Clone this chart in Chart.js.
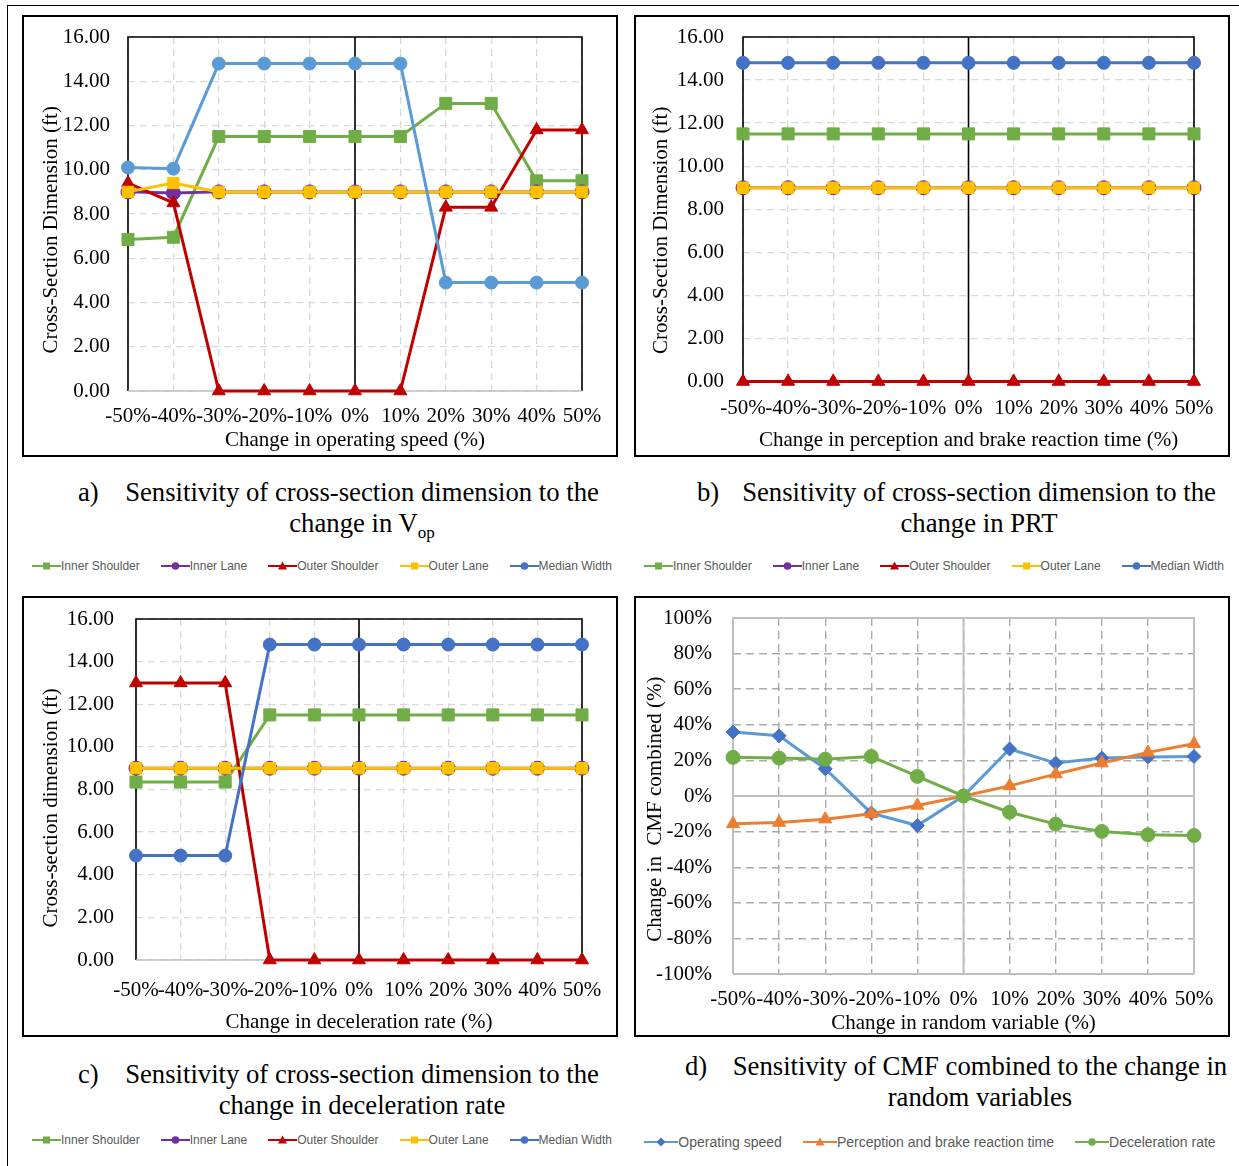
<!DOCTYPE html>
<html>
<head>
<meta charset="utf-8">
<title>Sensitivity of cross-section dimension and CMF</title>
<script src="https://cdn.jsdelivr.net/npm/chart.js@4.4.1/dist/chart.umd.min.js"></script>
<style>
  body { margin: 0; width: 1239px; height: 1166px; position: relative; overflow: hidden; background: #fff; font-family: "Liberation Serif", "Times New Roman", serif; }
  .frame { position: absolute; left: 7px; top: 5px; width: 1300px; height: 1300px; border-left: 1.5px solid #000; border-top: 1.5px solid #000; }
  .box { position: absolute; border: 2px solid #000; box-sizing: border-box; pointer-events: none; }
  canvas { position: absolute; }
  .cap { position: absolute; width: 600px; font-size: 26.7px; line-height: 31px; text-align: center; white-space: nowrap; color: #000; }
  .tag { position: absolute; font-size: 26.7px; line-height: 31px; color: #000; }
  .legend { position: absolute; display: flex; justify-content: center; align-items: center; gap: 21px; font-family: "Liberation Sans", Arial, sans-serif; color: #595959; white-space: nowrap; }
  .legend span { display: flex; align-items: center; }
</style>
</head>
<body>
<div class="frame"></div>

<canvas id="chartA"></canvas>
<canvas id="chartB"></canvas>
<canvas id="chartC"></canvas>
<canvas id="chartD"></canvas>

<div class="box" style="left:22px;top:15px;width:596px;height:442px"></div>
<div class="box" style="left:634px;top:15px;width:596px;height:442px"></div>
<div class="box" style="left:22px;top:596px;width:596px;height:441px"></div>
<div class="box" style="left:634px;top:596px;width:596px;height:441px"></div>

<div class="tag" style="left:78px;top:477px">a)</div>
<div class="cap" style="left:62px;top:477px">Sensitivity of cross-section dimension to the<br>change in V<sub style="font-size:17px;line-height:0">op</sub></div>
<div class="tag" style="left:697px;top:477px">b)</div>
<div class="cap" style="left:679px;top:477px">Sensitivity of cross-section dimension to the<br>change in PRT</div>
<div class="tag" style="left:78px;top:1059px">c)</div>
<div class="cap" style="left:62px;top:1059px">Sensitivity of cross-section dimension to the<br>change in deceleration rate</div>
<div class="tag" style="left:685px;top:1051px">d)</div>
<div class="cap" style="left:680px;top:1051px">Sensitivity of CMF combined to the change in<br>random variables</div>

<div class="legend" id="legendA" style="left:24px;top:559px;width:596px;font-size:12px"></div>
<div class="legend" id="legendB" style="left:636px;top:559px;width:596px;font-size:12px"></div>
<div class="legend" id="legendC" style="left:24px;top:1133px;width:596px;font-size:12px"></div>
<div class="legend" id="legendD" style="left:632px;top:1134px;width:596px;font-size:14px"></div>

<script>
// Data
const changeLabels = ['-50%', '-40%', '-30%', '-20%', '-10%', '0%', '10%', '20%', '30%', '40%', '50%'];
const laneNames = ['Inner Shoulder', 'Inner Lane', 'Outer Shoulder', 'Outer Lane', 'Median Width'];
const dimTicks = [0, 2, 4, 6, 8, 10, 12, 14, 16];
const cmfTicks = [-100, -80, -60, -40, -20, 0, 20, 40, 60, 80, 100];

// a) operating speed (ft)
const vopInnerShoulder = [6.85, 6.95, 11.5, 11.5, 11.5, 11.5, 11.5, 13.0, 13.0, 9.5, 9.5];
const vopInnerLane = [9.0, 8.95, 9.0, 9.0, 9.0, 9.0, 9.0, 9.0, 9.0, 9.0, 9.0];
const vopOuterShoulder = [9.4, 8.5, 0, 0, 0, 0, 0, 8.3, 8.3, 11.8, 11.8];
const vopOuterLane = [9.0, 9.4, 9.0, 9.0, 9.0, 9.0, 9.0, 9.0, 9.0, 9.0, 9.0];
const vopMedianWidth = [10.1, 10.05, 14.8, 14.8, 14.8, 14.8, 14.8, 4.9, 4.9, 4.9, 4.9];

// b) perception and brake reaction time (ft)
const prtInnerShoulder = [11.5, 11.5, 11.5, 11.5, 11.5, 11.5, 11.5, 11.5, 11.5, 11.5, 11.5];
const prtInnerLane = [9, 9, 9, 9, 9, 9, 9, 9, 9, 9, 9];
const prtOuterShoulder = [0, 0, 0, 0, 0, 0, 0, 0, 0, 0, 0];
const prtOuterLane = [9, 9, 9, 9, 9, 9, 9, 9, 9, 9, 9];
const prtMedianWidth = [14.8, 14.8, 14.8, 14.8, 14.8, 14.8, 14.8, 14.8, 14.8, 14.8, 14.8];

// c) deceleration rate (ft)
const decInnerShoulder = [8.35, 8.35, 8.35, 11.5, 11.5, 11.5, 11.5, 11.5, 11.5, 11.5, 11.5];
const decInnerLane = [9, 9, 9, 9, 9, 9, 9, 9, 9, 9, 9];
const decOuterShoulder = [13.0, 13.0, 13.0, 0, 0, 0, 0, 0, 0, 0, 0];
const decOuterLane = [9, 9, 9, 9, 9, 9, 9, 9, 9, 9, 9];
const decMedianWidth = [4.9, 4.9, 4.9, 14.8, 14.8, 14.8, 14.8, 14.8, 14.8, 14.8, 14.8];

// d) change in CMF combined (%)
const cmfNames = ['Operating speed', 'Perception and brake reaction time', 'Deceleration rate'];
const cmfOperatingSpeed = [35.9, 33.8, 15.3, -9.6, -16.6, 0, 26.4, 18.5, 21.3, 21.9, 22.2];
const cmfPerception = [-15.6, -14.9, -13.0, -10.0, -5.3, 0, 5.7, 12.3, 18.5, 24.5, 29.3];
const cmfDeceleration = [21.7, 21.3, 20.7, 22.2, 11.0, 0, -9.1, -15.8, -19.9, -21.8, -22.2];

// series looks (Excel palette)
const laneLook = [
  { color: '#70AD47', shape: 'rect', r: 8.5 },
  { color: '#7030A0', shape: 'circle', r: 7 },
  { color: '#C00000', shape: 'triangle', r: 7.5 },
  { color: '#FFC000', shape: 'rect', r: 8 },
  { color: '#4472C4', shape: 'circle', r: 6.5 }
];
const cmfLook = [
  { color: '#5B9BD5', marker: '#4472C4', shape: 'rectRot', r: 7 },
  { color: '#ED7D31', shape: 'triangle', r: 7.5 },
  { color: '#70AD47', shape: 'circle', r: 7 }
];

function lineSet(label, data, look, idx) {
  const mk = look.marker || look.color;
  return {
    label, data,
    borderColor: look.color, backgroundColor: mk,
    pointBackgroundColor: mk, pointBorderColor: mk,
    pointStyle: look.shape, pointRadius: look.r, pointBorderWidth: 1,
    borderWidth: 3, tension: 0, clip: false, order: 10 - idx
  };
}

function laneSets(series, medianColor) {
  return series.map((d, i) => {
    const look = Object.assign({}, laneLook[i]);
    if (i === 4 && medianColor) look.color = medianColor;
    return lineSet(laneNames[i], d, look, i);
  });
}

// frame, axis line and zero line drawn from the scales
const framePlugin = {
  id: 'frame',
  beforeDatasetsDraw(chart, args, opts) {
    const { ctx, chartArea: a, scales } = chart;
    const zx = scales.x.getPixelForValue(changeLabels.indexOf('0%'));
    ctx.save();
    ctx.lineWidth = opts.width;
    ctx.strokeStyle = opts.side;
    ctx.beginPath();
    ctx.moveTo(a.left, a.bottom); ctx.lineTo(a.left, a.top);
    ctx.lineTo(a.right, a.top); ctx.lineTo(a.right, a.bottom);
    ctx.moveTo(zx, a.top); ctx.lineTo(zx, a.bottom);
    ctx.stroke();
    ctx.strokeStyle = opts.base;
    ctx.beginPath();
    ctx.moveTo(a.left, a.bottom); ctx.lineTo(a.right, a.bottom);
    if (opts.zeroY) {
      const zy = scales.y.getPixelForValue(0);
      ctx.moveTo(a.left, zy); ctx.lineTo(a.right, zy);
    }
    ctx.stroke();
    ctx.restore();
  }
};

const FS = 21;

function panelChart(id, g, datasets, yTicks, fmt, look) {
  const cv = document.getElementById(id);
  cv.width = g.bw; cv.height = g.bh;
  cv.style.left = g.bx + 'px'; cv.style.top = g.by + 'px';
  const font = { family: 'Liberation Serif', size: FS };
  const lh = FS * 1.2;
  // gap between plot and labels is made with invisible tick marks, so it does not push the plot area
  const gridOpts = gap => ({ color: look.grid, lineWidth: look.gridWidth, drawTicks: true, tickLength: gap, tickColor: 'rgba(0,0,0,0)' });
  return new Chart(cv, {
    type: 'line',
    data: { labels: changeLabels, datasets },
    options: {
      responsive: false,
      animation: false,
      layout: { autoPadding: false, padding: { left: 0, top: g.T - g.by, right: g.bx + g.bw - g.R, bottom: 0 } },
      plugins: {
        legend: { display: false },
        tooltip: { enabled: false },
        frame: look.frame
      },
      scales: {
        x: {
          type: 'category',
          offset: false,
          grid: gridOpts(g.xLabY - g.B - lh / 2),
          border: { display: false, dash: look.dash },
          ticks: { font, color: '#000', padding: 0, maxRotation: 0, minRotation: 0, autoSkip: false },
          title: { display: true, text: g.xTitle, font, color: '#000', padding: { top: 0, bottom: g.by + g.bh - g.xTitleY - lh / 2 } },
          afterFit(s) { s.height = g.by + g.bh - g.B; }
        },
        y: {
          min: yTicks[0],
          max: yTicks[yTicks.length - 1],
          grid: gridOpts(g.L - g.yLabRight),
          border: { display: false, dash: look.dash },
          ticks: { stepSize: yTicks[1] - yTicks[0], font, color: '#000', padding: 0, callback: fmt },
          title: { display: true, text: g.yTitle, font, color: '#000', padding: { top: g.yTitleX - g.bx - lh / 2, bottom: 0 } },
          afterFit(s) { s.width = g.L - g.bx; }
        }
      }
    },
    plugins: [framePlugin]
  });
}

const nb = n => '\u00A0'.repeat(n);
const dimFmt = v => v.toFixed(2);
const pctFmt = v => v + '%';
const blackFrame = { frame: { width: 1.6, side: '#000', base: '#BFBFBF', zeroY: false }, grid: '#D9D9D9', gridWidth: 1.3, dash: [7, 5] };
const grayFrame = { frame: { width: 2, side: '#BFBFBF', base: '#BFBFBF', zeroY: true }, grid: '#ABABAB', gridWidth: 1.4, dash: [8, 5] };

panelChart('chartA',
  { bx: 22, by: 15, bw: 596, bh: 442, L: 128, R: 582, T: 37, B: 391, yLabRight: 110, yTitleX: 51, xLabY: 416, xTitleY: 440,
    xTitle: 'Change in operating speed (%)', yTitle: 'Cross-Section Dimension (ft)' + nb(6) },
  laneSets([vopInnerShoulder, vopInnerLane, vopOuterShoulder, vopOuterLane, vopMedianWidth], '#5B9BD5'),
  dimTicks, dimFmt, blackFrame);

panelChart('chartB',
  { bx: 634, by: 15, bw: 596, bh: 442, L: 743, R: 1194, T: 37, B: 381.5, yLabRight: 724, yTitleX: 661, xLabY: 408, xTitleY: 440,
    xTitle: 'Change in perception and brake reaction time (%)', yTitle: 'Cross-Section Dimension (ft)' + nb(8) },
  laneSets([prtInnerShoulder, prtInnerLane, prtOuterShoulder, prtOuterLane, prtMedianWidth]),
  dimTicks, dimFmt, blackFrame);

panelChart('chartC',
  { bx: 22, by: 596, bw: 596, bh: 441, L: 136, R: 582, T: 619, B: 960, yLabRight: 114, yTitleX: 51, xLabY: 990, xTitleY: 1022,
    xTitle: 'Change in deceleration rate (%)', yTitle: 'Cross-section dimension (ft)' + nb(7) },
  laneSets([decInnerShoulder, decInnerLane, decOuterShoulder, decOuterLane, decMedianWidth]),
  dimTicks, dimFmt, blackFrame);

panelChart('chartD',
  { bx: 634, by: 596, bw: 596, bh: 441, L: 733, R: 1194, T: 618, B: 974, yLabRight: 712, yTitleX: 655, xLabY: 999, xTitleY: 1023,
    xTitle: 'Change in random variable (%)', yTitle: 'Change in  CMF combined (%)' + nb(5) },
  [cmfOperatingSpeed, cmfPerception, cmfDeceleration].map((d, i) => lineSet(cmfNames[i], d, cmfLook[i], i)),
  cmfTicks, pctFmt, grayFrame);

// HTML legends built from the series names and looks
function markerSvg(look, w) {
  const c = look.marker || look.color;
  const m = w / 2;
  let shape = '';
  if (look.shape === 'rect') shape = `<rect x="${m - 3.5}" y="2.5" width="7" height="7" fill="${c}"/>`;
  else if (look.shape === 'circle') shape = `<circle cx="${m}" cy="6" r="3.8" fill="${c}"/>`;
  else if (look.shape === 'triangle') shape = `<polygon points="${m},1.5 ${m + 4.5},9.5 ${m - 4.5},9.5" fill="${c}"/>`;
  else shape = `<polygon points="${m},1.5 ${m + 4.5},6 ${m},10.5 ${m - 4.5},6" fill="${c}"/>`;
  return `<svg width="${w}" height="12" viewBox="0 0 ${w} 12"><line x1="0" y1="6" x2="${w}" y2="6" stroke="${look.color}" stroke-width="2"/>${shape}</svg>`;
}
function buildLegend(id, names, looks, w) {
  document.getElementById(id).innerHTML = names.map((n, i) =>
    `<span>${markerSvg(looks[i], w)}${n}</span>`).join('');
}
buildLegend('legendA', laneNames, laneLook, 29);
buildLegend('legendB', laneNames, laneLook, 29);
buildLegend('legendC', laneNames, laneLook, 29);
buildLegend('legendD', cmfNames, cmfLook, 34);
</script>
</body>
</html>
